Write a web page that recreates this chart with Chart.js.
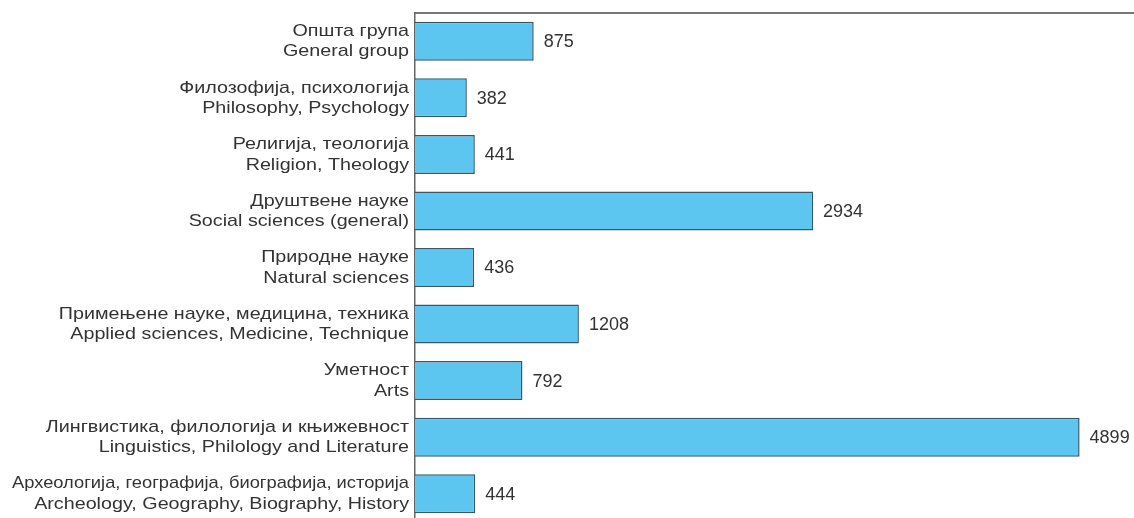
<!DOCTYPE html>
<html>
<head>
<meta charset="utf-8">
<script src="https://cdn.jsdelivr.net/npm/chart.js@4"></script>
<style>
  html, body { margin: 0; padding: 0; background: #fff; overflow: hidden; }
  #wrap { width: 1134px; height: 522px; position: relative; }
</style>
</head>
<body>
<div id="wrap"><canvas id="grafikon"></canvas></div>
<script>
// области (српски / енглески)
const oblastiSr = [
  "Општа група",
  "Филозофија, психологија",
  "Религија, теологија",
  "Друштвене науке",
  "Природне науке",
  "Примењене науке, медицина, техника",
  "Уметност",
  "Лингвистика, филологија и књижевност",
  "Археологија, географија, биографија, историја"
];
const oblastiEn = [
  "General group",
  "Philosophy, Psychology",
  "Religion, Theology",
  "Social sciences (general)",
  "Natural sciences",
  "Applied sciences, Medicine, Technique",
  "Arts",
  "Linguistics, Philology and Literature",
  "Archeology, Geography, Biography, History"
];
const broj = [875, 382, 441, 2934, 436, 1208, 792, 4899, 444];

const labele = [];
for (let i = 0; i < oblastiSr.length; i++) {
  labele.push([oblastiSr[i], oblastiEn[i]]);
}

const fontFamily = "'Liberation Sans', Arial, sans-serif";

// broj pored svake trake
const vrednosti = {
  id: "vrednosti",
  afterDatasetsDraw(chart) {
    const ctx = chart.ctx;
    const meta = chart.getDatasetMeta(0);
    ctx.save();
    ctx.font = "18px " + fontFamily;
    ctx.fillStyle = "#333";
    ctx.textAlign = "left";
    ctx.textBaseline = "middle";
    meta.data.forEach(function (bar, i) {
      ctx.fillText(String(broj[i]), bar.x + 10, bar.y + 1);
    });
    ctx.restore();
  }
};

// nazivi oblasti levo od ose, razvuceni po sirini (ali da stanu levo od ose)
const nazivi = {
  id: "nazivi",
  afterDraw(chart) {
    const ctx = chart.ctx;
    const y = chart.scales.y;
    const desno = y.right - 6;
    ctx.save();
    ctx.font = "17px " + fontFamily;
    ctx.fillStyle = "#333";
    ctx.textAlign = "right";
    ctx.textBaseline = "middle";
    labele.forEach(function (par, i) {
      const sredina = y.getPixelForValue(i);
      par.forEach(function (red, j) {
        const sirina = ctx.measureText(red).width;
        const razvuci = Math.min(1.16, (desno - 12) / sirina);
        ctx.save();
        ctx.translate(desno, sredina - 10 + j * 20.5);
        ctx.scale(razvuci, 1);
        ctx.fillText(red, 0, 0);
        ctx.restore();
      });
    });
    ctx.restore();
  }
};

new Chart(document.getElementById("grafikon"), {
  type: "bar",
  data: {
    labels: labele,
    datasets: [{
      data: broj,
      backgroundColor: "#5cc5f0",
      borderColor: "#35596b",
      borderWidth: 1.5,
      categoryPercentage: 0.69,
      barPercentage: 1
    }]
  },
  options: {
    indexAxis: "y",
    responsive: true,
    maintainAspectRatio: false,
    animation: false,
    layout: { padding: 0 },
    plugins: {
      legend: { display: false },
      tooltip: { enabled: false }
    },
    scales: {
      x: {
        position: "top",
        min: 0,
        max: 5300,
        ticks: { display: false },
        grid: { display: false, drawTicks: false },
        border: { display: true, color: "#777", width: 2 },
        afterFit: function (s) { s.height = 13; }
      },
      y: {
        ticks: { display: false },
        grid: { display: false, drawTicks: false },
        border: { display: true, color: "#666", width: 1.5 },
        afterFit: function (s) {
          s.width = 415;
          s.paddingTop = 0;
          s.paddingBottom = 0;
        }
      }
    }
  },
  plugins: [vrednosti, nazivi]
});
</script>
</body>
</html>
